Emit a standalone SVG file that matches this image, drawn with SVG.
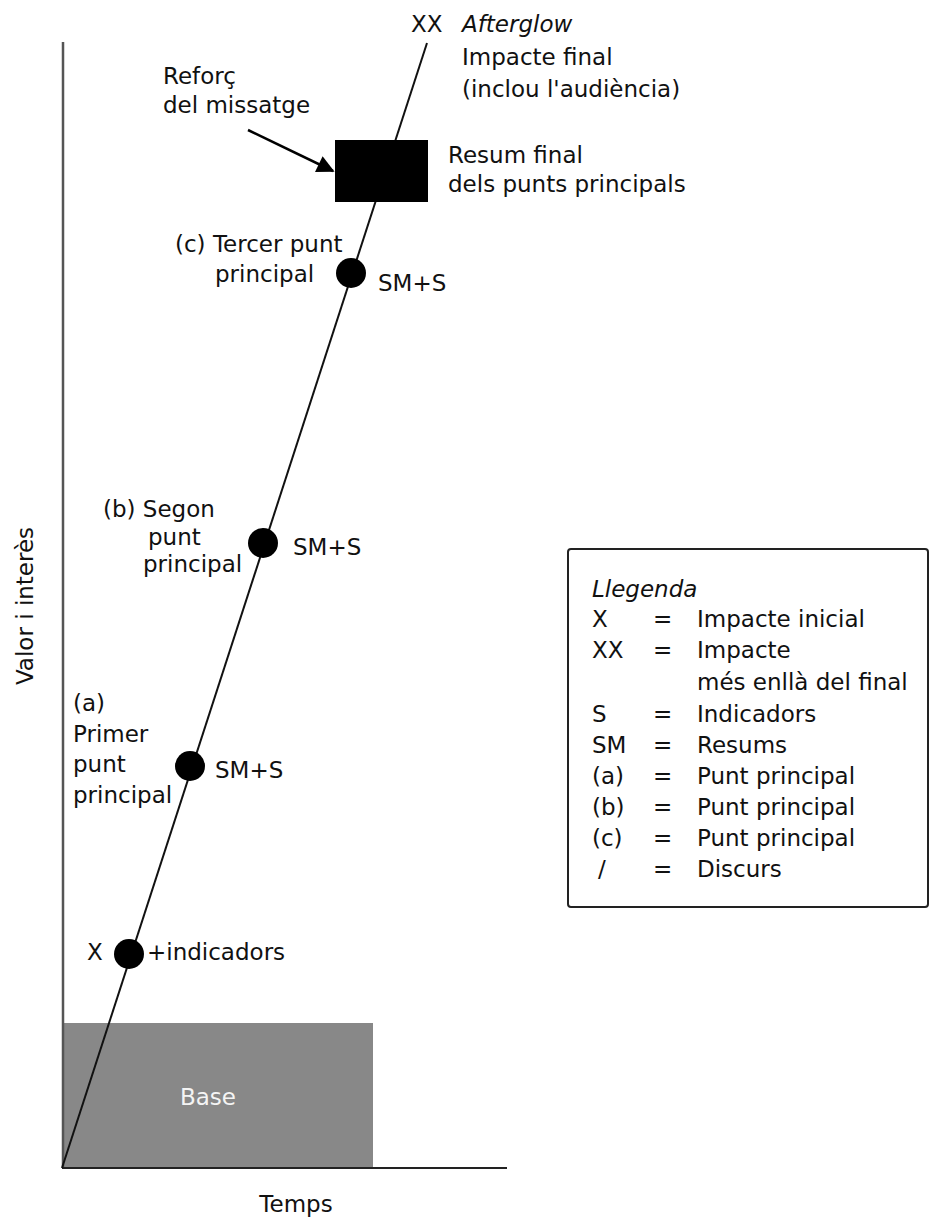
<svg xmlns="http://www.w3.org/2000/svg" width="930" height="1221" viewBox="0 0 930 1221">
  <defs>
    <style>
      text { font-family: "DejaVu Sans", "Noto Sans", sans-serif; font-size: 23px; fill: #111; }
      .it { font-style: italic; }
      .mid { text-anchor: middle; }
      .axis { stroke: #222; stroke-width: 2; fill: none; }
      .trend { stroke: #111; stroke-width: 2; fill: none; }
      .dot { fill: #000; }
    </style>
    <marker id="arrowhead" viewBox="0 0 10 10" refX="9" refY="5" markerWidth="8" markerHeight="7" orient="auto" markerUnits="strokeWidth">
      <path d="M0,0 L10,5 L0,10 z" fill="#000"/>
    </marker>
  </defs>

  <rect width="930" height="1221" fill="#fff"/>

  <!-- base block -->
  <g id="base">
    <rect x="62" y="1023" width="311" height="145" fill="#888"/>
    <text x="208" y="1105" class="mid" style="fill:#f4f4f4">Base</text>
  </g>

  <!-- axes -->
  <g id="axes">
    <line class="axis" x1="63" y1="42" x2="63" y2="1168" style="stroke:#555;stroke-width:2.5"/>
    <line class="axis" x1="62" y1="1168" x2="507" y2="1168"/>
    <text x="296" y="1212" class="mid">Temps</text>
    <text transform="translate(33,606) rotate(-90)" class="mid">Valor i interès</text>
  </g>

  <!-- connectors -->
  <g id="connectors">
    <line class="trend" x1="62" y1="1168" x2="427" y2="43"/>
    <line x1="248" y1="130" x2="333" y2="171" stroke="#000" stroke-width="2.5" marker-end="url(#arrowhead)"/>
  </g>

  <!-- impact points along the line -->
  <g id="node-x">
    <circle class="dot" cx="129" cy="954" r="15"/>
    <text x="87" y="960">X</text>
    <text x="147" y="960">+indicadors</text>
  </g>

  <g id="node-a">
    <circle class="dot" cx="190" cy="766" r="15"/>
    <text x="73" y="711">(a)</text>
    <text x="73" y="742">Primer</text>
    <text x="73" y="772">punt</text>
    <text x="73" y="803">principal</text>
    <text x="215" y="778">SM+S</text>
  </g>

  <g id="node-b">
    <circle class="dot" cx="263" cy="543" r="15"/>
    <text x="103" y="517">(b) Segon</text>
    <text x="148" y="545">punt</text>
    <text x="143" y="572">principal</text>
    <text x="293" y="555">SM+S</text>
  </g>

  <g id="node-c">
    <circle class="dot" cx="351" cy="273" r="15"/>
    <text x="175" y="252">(c) Tercer punt</text>
    <text x="215" y="282">principal</text>
    <text x="378" y="291">SM+S</text>
  </g>

  <g id="node-summary">
    <rect x="335" y="140" width="93" height="62" fill="#000"/>
    <text x="448" y="163">Resum final</text>
    <text x="448" y="192">dels punts principals</text>
  </g>

  <g id="node-reinforce">
    <text x="163" y="84">Reforç</text>
    <text x="163" y="113">del missatge</text>
  </g>

  <g id="node-afterglow">
    <text x="411" y="32">XX</text>
    <text x="462" y="32" class="it">Afterglow</text>
    <text x="462" y="65">Impacte final</text>
    <text x="462" y="97">(inclou l'audiència)</text>
  </g>

  <!-- legend -->
  <g id="legend">
    <rect x="568" y="549" width="360" height="358" rx="3" fill="#fff" stroke="#222" stroke-width="2"/>
    <text x="592" y="597" class="it">Llegenda</text>
    <g>
      <text x="592" y="627">X</text>
      <text x="592" y="658">XX</text>
      <text x="592" y="722">S</text>
      <text x="592" y="753">SM</text>
      <text x="592" y="784">(a)</text>
      <text x="592" y="815">(b)</text>
      <text x="592" y="846">(c)</text>
      <text x="598" y="877">/</text>
    </g>
    <g class="eq">
      <text x="653" y="627">=</text>
      <text x="653" y="658">=</text>
      <text x="653" y="722">=</text>
      <text x="653" y="753">=</text>
      <text x="653" y="784">=</text>
      <text x="653" y="815">=</text>
      <text x="653" y="846">=</text>
      <text x="653" y="877">=</text>
    </g>
    <g>
      <text x="697" y="627">Impacte inicial</text>
      <text x="697" y="658">Impacte</text>
      <text x="697" y="690">més enllà del final</text>
      <text x="697" y="722">Indicadors</text>
      <text x="697" y="753">Resums</text>
      <text x="697" y="784">Punt principal</text>
      <text x="697" y="815">Punt principal</text>
      <text x="697" y="846">Punt principal</text>
      <text x="697" y="877">Discurs</text>
    </g>
  </g>
</svg>
